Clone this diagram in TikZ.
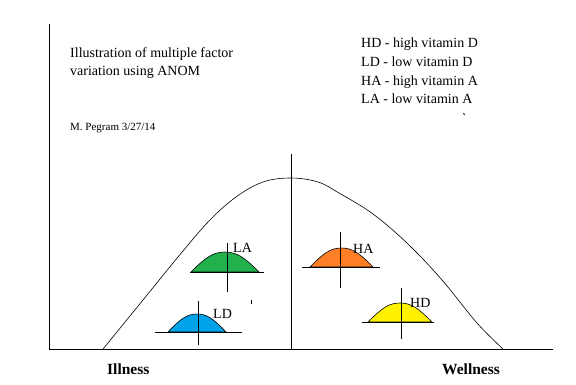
\documentclass[tikz,border=0pt]{standalone}
\usepackage{fontspec}
\setmainfont{Liberation Serif}
\definecolor{pgreen}{RGB}{34,177,76}
\definecolor{pblue}{RGB}{0,162,232}
\definecolor{porange}{RGB}{255,127,39}
\definecolor{pyellow}{RGB}{255,242,0}
\tikzset{
  axisline/.style={line width=1pt},
  bigbell/.style={line width=0.6pt},
  crossline/.style={line width=0.9pt},
  minibellshape/.style={draw=black, line width=0.6pt},
  txt/.style={anchor=base west, inner sep=0pt, font=\fontsize{14}{16}\selectfont},
  smalltxt/.style={anchor=base west, inner sep=0pt, font=\fontsize{11}{13}\selectfont},
  boldtxt/.style={anchor=base west, inner sep=0pt, font=\fontsize{15.5}{18}\selectfont\bfseries},
}
% #1 left, #2 right, #3 baseline y, #4 peak y, #5 colour
\newcommand\minibell[5]{%
  \path[minibellshape, fill=#5]
    (#1,#3) .. controls ({#1+0.22*(#2-#1)},{#3-0.75*(#3-#4)}) and ({#1+0.33*(#2-#1)},#4)
    .. ({0.5*(#1+#2)},#4)
    .. controls ({#2-0.33*(#2-#1)},#4) and ({#2-0.22*(#2-#1)},{#3-0.75*(#3-#4)}) .. (#2,#3) -- cycle;}
\begin{document}
\begin{tikzpicture}[x=1pt,y=-1pt]
\useasboundingbox[fill=white] (0,0) rectangle (576,384);
% axes
\coordinate (ytop) at (49,24);
\coordinate (orig) at (49,349);
\coordinate (xend) at (553,349);
\draw[axisline] (ytop) -- (orig) -- (xend);
% big bell curve
\draw[bigbell] plot[smooth, tension=0.6] coordinates {(103,349) (143,300) (178,257) (209,221) (236,197) (263,182) (291,178) (318,182) (339,193) (373,214) (408,244) (442,280) (477,323) (503,349)};
\coordinate (ctop) at (291,154);
\coordinate (cbot) at (291,349);
\draw[axisline] (ctop) -- (cbot);
% mini bells
\minibell{191}{259}{272}{252}{pgreen}
\minibell{168}{226}{332}{314}{pblue}
\minibell{310}{373}{267}{248}{porange}
\minibell{368}{432}{322}{303}{pyellow}
% crosses
\draw[crossline] (190,272) -- (264,272) (227,243) -- (227,292);
\draw[crossline] (155,332) -- (242,332) (198,301) -- (198,345);
\draw[crossline] (302,267) -- (380,267) (340,232) -- (340,288);
\draw[crossline] (362,322) -- (434,322) (401,288) -- (401,339);
% labels
\node[txt] (la) at (233,252.5) {LA};
\node[txt] (ld) at (213,318) {LD};
\node[txt] (ha) at (353,253) {HA};
\node[txt] (hd) at (410,307) {HD};
% texts
\node[txt] (t1) at (70,57) {Illustration of multiple factor};
\node[txt] (t2) at (70,75) {variation using ANOM};
\node[smalltxt] (auth) at (70,130) {M. Pegram 3/27/14};
\node[txt] (l1) at (361,47) {HD - high vitamin D};
\node[txt] (l2) at (361,66) {LD - low vitamin D};
\node[txt] (l3) at (361,85) {HA - high vitamin A};
\node[txt] (l4) at (361,103) {LA - low vitamin A};
\node[boldtxt] (ill) at (107,374) {Illness};
\node[boldtxt] (well) at (442,374) {Wellness};
% stray marks
\draw[line width=0.8pt] (251.5,300) -- (251.5,303.5);
\draw[line width=0.8pt] (463.5,113) -- (464.5,115);
\end{tikzpicture}
\end{document}
